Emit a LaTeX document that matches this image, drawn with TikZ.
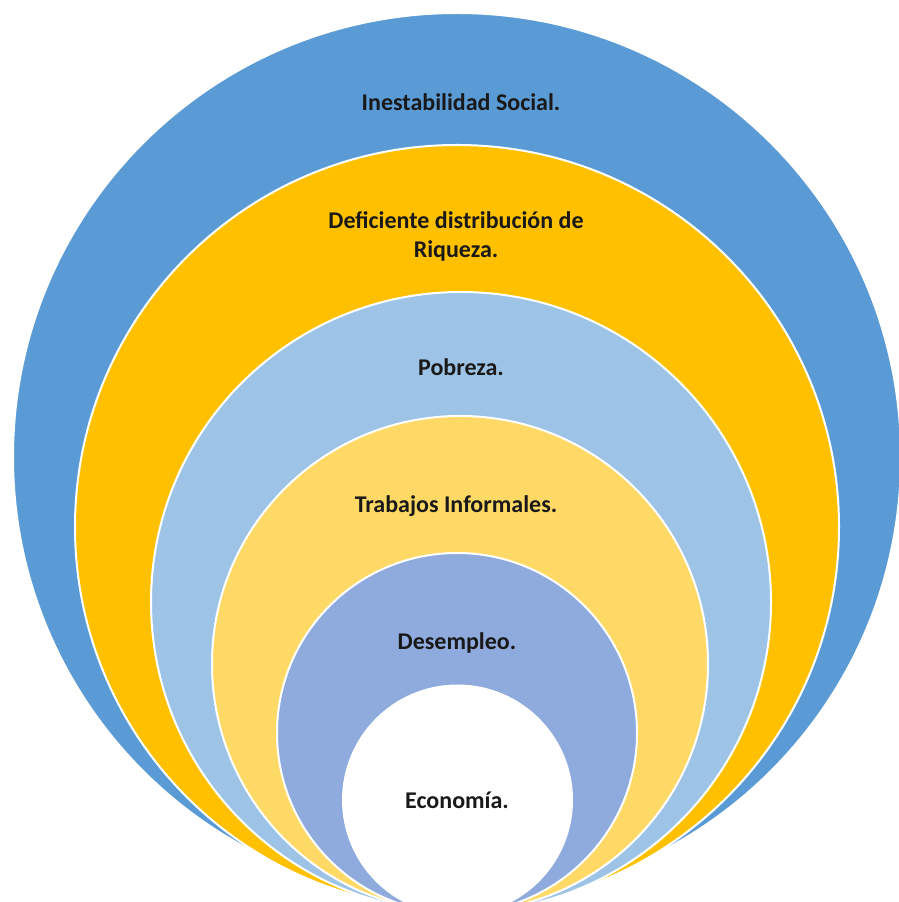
\documentclass[tikz,border=0pt]{standalone}
\usepackage{fontspec}
\setmainfont{Carlito}
\usepackage{tikz}
\usetikzlibrary{positioning}

\definecolor{capaazul}{HTML}{5B9BD5}
\definecolor{capanaranja}{HTML}{FFC000}
\definecolor{capacielo}{HTML}{9DC3E6}
\definecolor{capaamarilla}{HTML}{FFD966}
\definecolor{capalila}{HTML}{8FAADC}

\tikzset{
  capa/.style={draw=white, line width=2pt},
  rotulo/.style={font=\fontsize{24}{29}\selectfont\bfseries, text=black!90, align=center, inner sep=0pt}
}

\begin{document}
\begin{tikzpicture}[x=1pt,y=1pt]
\useasboundingbox (0,0) rectangle (899,902);
\clip (0,0) rectangle (899,902);
% capas, de fuera hacia dentro
\draw[capa, fill=capaazul] (457,445) circle[radius=444pt];
\draw[capa, fill=capanaranja] (457,375) circle[radius=382pt];
\draw[capa, fill=capacielo] (461,300) circle[radius=310pt];
\draw[capa, fill=capaamarilla] (460,238) circle[radius=248pt];
\draw[capa, fill=capalila] (457,169) circle[radius=180pt];
\draw[capa, fill=white] (457.5,102) circle[radius=114.5pt];
% textos
\node[rotulo] (social) at (461,800) {Inestabilidad Social.};
\node[rotulo] (riqueza) at (456,666) {Deficiente distribución de\\Riqueza.};
\node[rotulo] (pobreza) at (461,535) {Pobreza.};
\node[rotulo] (informales) at (456,396) {Trabajos Informales.};
\node[rotulo] (desempleo) at (457,259) {Desempleo.};
\node[rotulo] (economia) at (457,102) {Economía.};
\end{tikzpicture}
\end{document}
